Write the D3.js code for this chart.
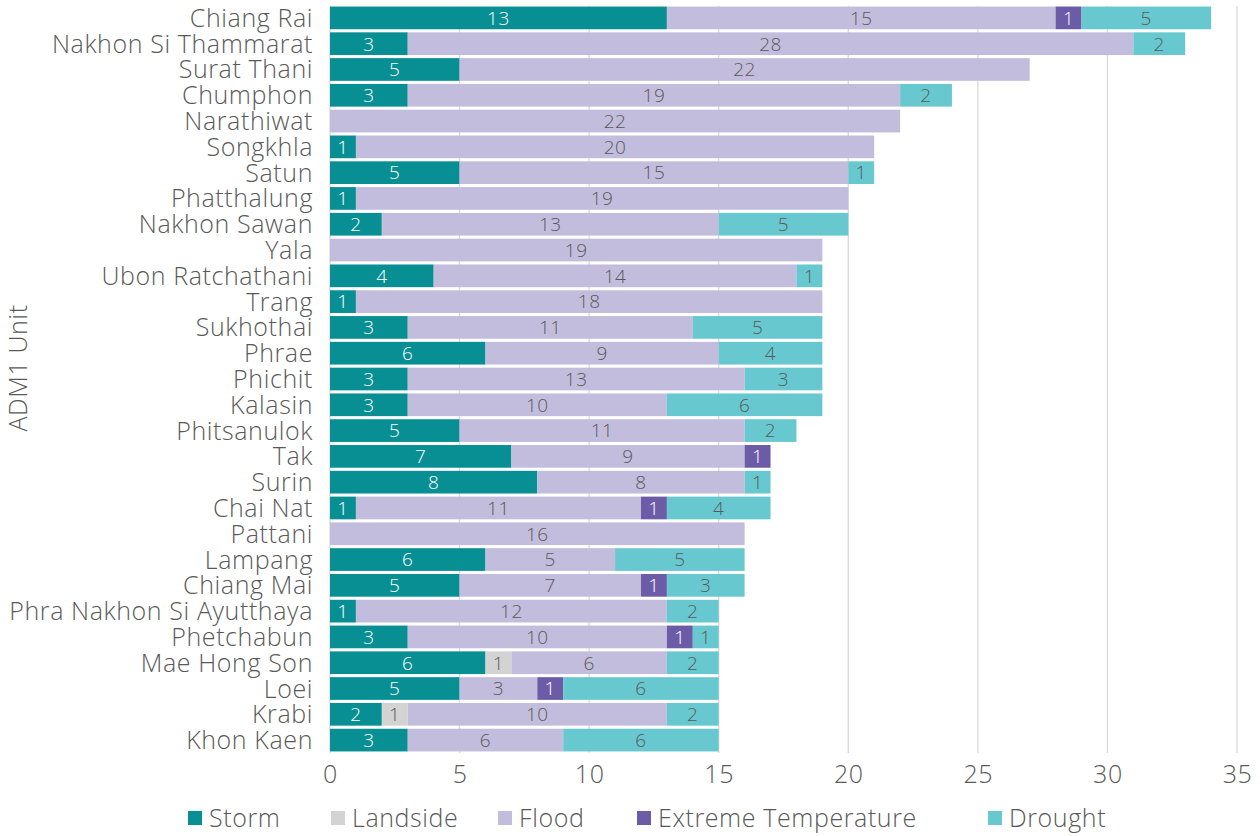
<!DOCTYPE html>
<html>
<head>
<meta charset="utf-8">
<script src="https://cdn.jsdelivr.net/npm/d3@7"></script>
<style>
  html, body { margin: 0; padding: 0; background: #fff; }
  svg { display: block; font-family: "Open Sans", "Lato", sans-serif; font-weight: 300; }
</style>
</head>
<body>
<svg id="chart" width="1260" height="836"></svg>
<script>
// Hazard events per province, by hazard type
const provinces = [
  "Chiang Rai", "Nakhon Si Thammarat", "Surat Thani", "Chumphon", "Narathiwat",
  "Songkhla", "Satun", "Phatthalung", "Nakhon Sawan", "Yala",
  "Ubon Ratchathani", "Trang", "Sukhothai", "Phrae", "Phichit",
  "Kalasin", "Phitsanulok", "Tak", "Surin", "Chai Nat",
  "Pattani", "Lampang", "Chiang Mai", "Phra Nakhon Si Ayutthaya", "Phetchabun",
  "Mae Hong Son", "Loei", "Krabi", "Khon Kaen"
];
const storm      = [13, 3, 5, 3, 0, 1, 5, 1, 2, 0, 4, 1, 3, 6, 3, 3, 5, 7, 8, 1, 0, 6, 5, 1, 3, 6, 5, 2, 3];
const landslide  = [ 0, 0, 0, 0, 0, 0, 0, 0, 0, 0, 0, 0, 0, 0, 0, 0, 0, 0, 0, 0, 0, 0, 0, 0, 0, 1, 0, 1, 0];
const flood      = [15,28,22,19,22,20,15,19,13,19,14,18,11, 9,13,10,11, 9, 8,11,16, 5, 7,12,10, 6, 3,10, 6];
const extremeTmp = [ 1, 0, 0, 0, 0, 0, 0, 0, 0, 0, 0, 0, 0, 0, 0, 0, 0, 1, 0, 1, 0, 0, 1, 0, 1, 0, 1, 0, 0];
const drought    = [ 5, 2, 0, 2, 0, 0, 1, 0, 5, 0, 1, 0, 5, 4, 3, 6, 2, 0, 1, 4, 0, 5, 3, 2, 1, 2, 6, 2, 6];
const xTicks = [0, 5, 10, 15, 20, 25, 30, 35];

const seriesDefs = [
  { key: "Storm", values: storm, color: "#078F93", text: "#ffffff" },
  { key: "Landside", values: landslide, color: "#D3D3D4", text: "#595959" },
  { key: "Flood", values: flood, color: "#C3BDDD", text: "#595959" },
  { key: "Extreme Temperature", values: extremeTmp, color: "#6C5BA6", text: "#ffffff" },
  { key: "Drought", values: drought, color: "#67C9CF", text: "#595959" }
];

const rows = provinces.map((p, i) => {
  const r = { province: p };
  seriesDefs.forEach(s => { r[s.key] = s.values[i]; });
  return r;
});

const svg = d3.select("#chart");
const textColor = "#595959";
const labelSize = 25;
const spacing = "0.6px";

const x = d3.scaleLinear().domain([0, 35]).range([330, 1237]);
const y = d3.scaleBand().domain(provinces).range([5, 753])
  .paddingInner(0.12).paddingOuter(0.06);

// vertical gridlines
svg.append("g").selectAll("line").data(xTicks).join("line")
  .attr("x1", d => x(d)).attr("x2", d => x(d))
  .attr("y1", 6).attr("y2", 753)
  .attr("stroke", "#D9D9D9").attr("stroke-width", 1.3);

const stack = d3.stack().keys(seriesDefs.map(s => s.key));
const layers = stack(rows);

const barG = svg.append("g");
layers.forEach((layer, li) => {
  const def = seriesDefs[li];
  const segs = layer.filter(d => d[1] > d[0]);
  const g = barG.append("g");
  g.selectAll("rect").data(segs).join("rect")
    .attr("x", d => x(d[0]))
    .attr("y", d => y(d.data.province))
    .attr("width", d => x(d[1]) - x(d[0]))
    .attr("height", y.bandwidth())
    .attr("fill", def.color);
  g.selectAll("text").data(segs).join("text")
    .attr("x", d => (x(d[0]) + x(d[1])) / 2)
    .attr("y", d => y(d.data.province) + y.bandwidth() / 2)
    .attr("dy", "0.36em")
    .attr("text-anchor", "middle")
    .attr("font-size", 19)
    .attr("letter-spacing", "0.5px")
    .attr("fill", def.text)
    .text(d => d[1] - d[0]);
});

// category labels
svg.append("g").selectAll("text").data(provinces).join("text")
  .attr("x", 313)
  .attr("y", d => y(d) + y.bandwidth() / 2)
  .attr("dy", "0.36em")
  .attr("text-anchor", "end")
  .attr("font-size", labelSize)
  .attr("letter-spacing", spacing)
  .attr("fill", textColor)
  .text(d => d);

// x axis tick labels
const xAxis = d3.axisBottom(x).tickValues(xTicks).tickSize(0).tickPadding(0);
const ax = svg.append("g").attr("transform", "translate(0,765)").call(xAxis);
ax.select(".domain").remove();
ax.selectAll("text")
  .attr("font-size", labelSize)
  .attr("font-family", "'Open Sans', Lato, sans-serif")
  .attr("font-weight", 300)
  .attr("letter-spacing", spacing)
  .attr("fill", textColor)
  .attr("dy", "0.71em");

// y axis title
svg.append("text")
  .attr("transform", "translate(27,368) rotate(-90)")
  .attr("text-anchor", "middle")
  .attr("font-size", labelSize)
  .attr("letter-spacing", spacing)
  .attr("fill", textColor)
  .text("ADM1 Unit");

// legend
const legendX = [188, 331, 498, 637, 988];
const leg = svg.append("g");
seriesDefs.forEach((s, i) => {
  const g = leg.append("g").attr("transform", `translate(${legendX[i]},818)`);
  g.append("rect").attr("x", 0).attr("y", -7).attr("width", 14).attr("height", 14).attr("fill", s.color);
  g.append("text").attr("x", 21).attr("y", 0).attr("dy", "0.36em")
    .attr("font-size", labelSize).attr("letter-spacing", spacing)
    .attr("fill", textColor).text(s.key);
});
</script>
</body>
</html>
